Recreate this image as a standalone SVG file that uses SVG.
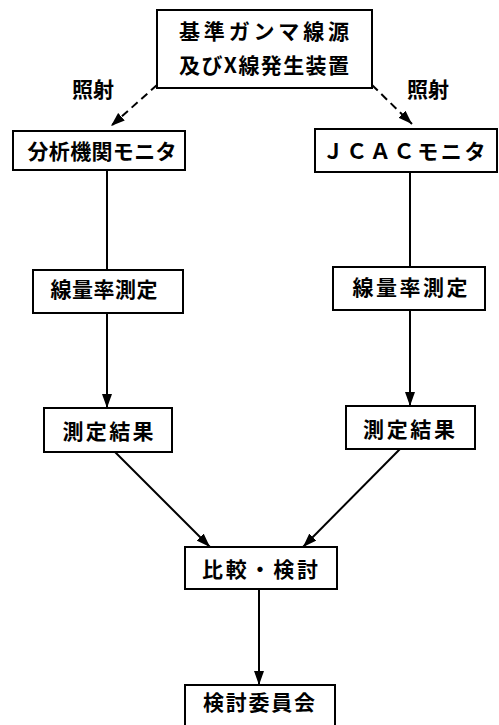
<svg xmlns="http://www.w3.org/2000/svg" width="499" height="725" viewBox="0 0 499 725">
<defs>
<style>
.box{fill:#fff;stroke:#000;stroke-width:2}
.t{font-family:"Noto Sans CJK JP","Noto Sans CJK SC",sans-serif;font-weight:bold;font-size:21px;fill:#000;text-anchor:middle;dominant-baseline:central}
.ln{stroke:#000;stroke-width:2;fill:none}
.dash{stroke-dasharray:8,5}
</style>
<marker id="ah" viewBox="0 0 14 10" markerWidth="14" markerHeight="10" refX="14" refY="5" orient="auto" markerUnits="userSpaceOnUse">
<path d="M0,0 L14,5 L0,10 z" fill="#000"/>
</marker>
</defs>
<rect width="499" height="725" fill="#fff"/>
<g id="connectors">
<line class="ln dash" x1="157" y1="85" x2="111" y2="126" marker-end="url(#ah)"/>
<line class="ln dash" x1="372" y1="85" x2="412" y2="124" marker-end="url(#ah)"/>
<line class="ln" x1="107" y1="170" x2="107" y2="270"/>
<line class="ln" x1="410" y1="172" x2="410" y2="267"/>
<line class="ln" x1="107" y1="313" x2="107" y2="408" marker-end="url(#ah)"/>
<line class="ln" x1="410" y1="310" x2="410" y2="406" marker-end="url(#ah)"/>
<line class="ln" x1="115" y1="452" x2="210" y2="547" marker-end="url(#ah)"/>
<line class="ln" x1="400" y1="449" x2="303" y2="547" marker-end="url(#ah)"/>
<line class="ln" x1="259" y1="589" x2="259" y2="685" marker-end="url(#ah)"/>
<text class="t" x="93" y="88">照射</text>
<text class="t" x="428" y="88">照射</text>
</g>
<g id="source">
<rect class="box" x="157" y="10" width="215" height="78"/>
<text class="t" x="264" y="30" textLength="170" lengthAdjust="spacing">基準ガンマ線源</text>
<text class="t" x="264" y="64" textLength="170" lengthAdjust="spacing">及びX線発生装置</text>
</g>
<g id="monitorA">
<rect class="box" x="13" y="131" width="172" height="39"/>
<text class="t" x="102" y="150" textLength="149" lengthAdjust="spacing">分析機関モニタ</text>
</g>
<g id="monitorJ">
<rect class="box" x="315" y="129" width="182" height="43"/>
<text class="t" x="404" y="150" textLength="163" lengthAdjust="spacing">ＪＣＡＣモニタ</text>
</g>
<g id="measureA">
<rect class="box" x="33" y="270" width="150" height="43"/>
<text class="t" x="104" y="288" textLength="107" lengthAdjust="spacing">線量率測定</text>
</g>
<g id="measureJ">
<rect class="box" x="333" y="267" width="152" height="43"/>
<text class="t" x="410" y="286" textLength="115" lengthAdjust="spacing">線量率測定</text>
</g>
<g id="resultA">
<rect class="box" x="44" y="408" width="128" height="44"/>
<text class="t" x="108" y="430" textLength="91" lengthAdjust="spacing">測定結果</text>
</g>
<g id="resultJ">
<rect class="box" x="346" y="406" width="129" height="43"/>
<text class="t" x="409" y="428" textLength="92" lengthAdjust="spacing">測定結果</text>
</g>
<g id="compare">
<rect class="box" x="185" y="547" width="152" height="42"/>
<text class="t" x="260" y="568" textLength="116" lengthAdjust="spacing">比較・検討</text>
</g>
<g id="committee">
<rect class="box" x="185" y="685" width="150" height="50"/>
<text class="t" x="259" y="701" textLength="112" lengthAdjust="spacing">検討委員会</text>
</g>
</svg>
